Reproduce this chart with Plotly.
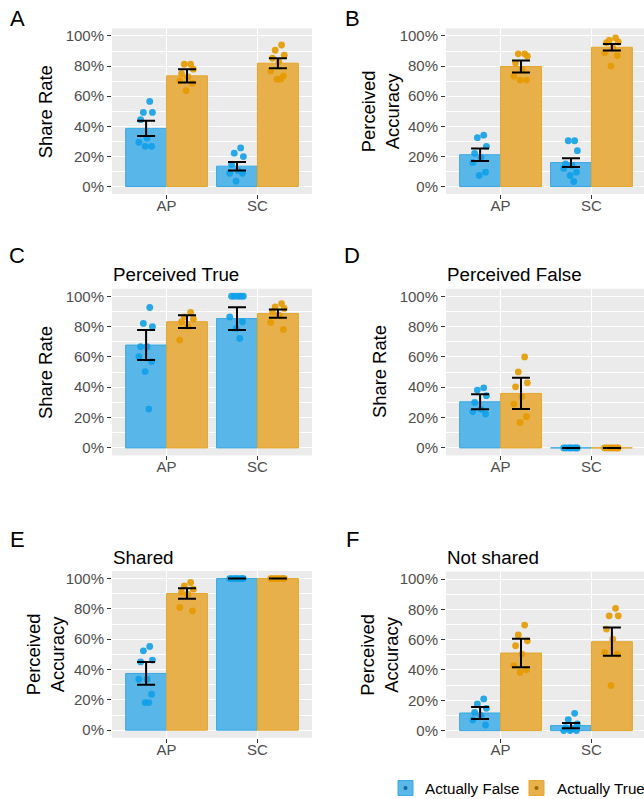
import plotly.graph_objects as go

# ---------------- data ----------------
categories = ["AP", "SC"]
groups = ["Actually False", "Actually True"]
y_ticks = [0, 0.2, 0.4, 0.6, 0.8, 1.0]

# Panel A: Share Rate
A_mean_false = [0.386, 0.135]
A_err_false = [0.050, 0.028]
A_mean_true = [0.735, 0.819]
A_err_true = [0.044, 0.033]
A_pts_false_AP = [0.565, 0.492, 0.492, 0.444, 0.322, 0.294, 0.267, 0.267]
A_pts_false_SC = [0.256, 0.221, 0.199, 0.146, 0.106, 0.088, 0.088, 0.035]
A_pts_true_AP = [0.812, 0.812, 0.779, 0.750, 0.728, 0.702, 0.684, 0.636]
A_pts_true_SC = [0.940, 0.905, 0.872, 0.852, 0.828, 0.768, 0.735, 0.713, 0.713]

# Panel B: Perceived Accuracy
B_mean_false = [0.211, 0.159]
B_err_false = [0.042, 0.029]
B_mean_true = [0.797, 0.925]
B_err_true = [0.040, 0.022]
B_pts_false_AP = [0.341, 0.324, 0.267, 0.220, 0.194, 0.160, 0.095, 0.073]
B_pts_false_SC = [0.304, 0.304, 0.238, 0.150, 0.140, 0.120, 0.095, 0.073, 0.033]
B_pts_true_AP = [0.881, 0.881, 0.866, 0.820, 0.780, 0.733, 0.707, 0.707]
B_pts_true_SC = [0.987, 0.971, 0.960, 0.955, 0.921, 0.888, 0.870, 0.800]

# Panel C: Perceived True - Share Rate
C_mean_false = [0.678, 0.853]
C_err_false = [0.099, 0.075]
C_mean_true = [0.832, 0.886]
C_err_true = [0.042, 0.027]
C_pts_false_AP = [0.926, 0.821, 0.800, 0.667, 0.667, 0.602, 0.569, 0.503, 0.256]
C_pts_false_SC = [1.0, 1.0, 1.0, 1.0, 1.0, 0.864, 0.832, 0.788, 0.722]
C_pts_true_AP = [0.893, 0.864, 0.850, 0.832, 0.800, 0.711]
C_pts_true_SC = [0.952, 0.930, 0.920, 0.897, 0.875, 0.827, 0.781]

# Panel D: Perceived False - Share Rate
D_mean_false = [0.304, 0.0]
D_err_false = [0.050, 0.0]
D_mean_true = [0.359, 0.0]
D_err_true = [0.103, 0.0]
D_pts_false_AP = [0.396, 0.381, 0.344, 0.300, 0.254, 0.240, 0.223]
D_pts_false_SC = [0.0, 0.0, 0.0, 0.0, 0.0, 0.0, 0.0, 0.0]
D_pts_true_AP = [0.600, 0.501, 0.429, 0.403, 0.337, 0.289, 0.206, 0.168]
D_pts_true_SC = [0.0, 0.0, 0.0, 0.0, 0.0, 0.0, 0.0, 0.0]

# Panel E: Shared - Perceived Accuracy
E_mean_false = [0.374, 1.0]
E_err_false = [0.075, 0.0]
E_mean_true = [0.901, 1.0]
E_err_true = [0.035, 0.0]
E_pts_false_AP = [0.552, 0.523, 0.462, 0.450, 0.336, 0.336, 0.237, 0.182, 0.182]
E_pts_false_SC = [1.0, 1.0, 1.0, 1.0, 1.0, 1.0, 1.0, 1.0]
E_pts_true_AP = [0.974, 0.952, 0.930, 0.910, 0.897, 0.809, 0.787]
E_pts_true_SC = [1.0, 1.0, 1.0, 1.0, 1.0, 1.0, 1.0, 1.0]

# Panel F: Not shared - Perceived Accuracy
F_mean_false = [0.116, 0.033]
F_err_false = [0.040, 0.017]
F_mean_true = [0.512, 0.587]
F_err_true = [0.094, 0.093]
F_pts_false_AP = [0.209, 0.176, 0.147, 0.120, 0.099, 0.070, 0.037]
F_pts_false_SC = [0.114, 0.073, 0.044, 0.020, 0.011, 0.0, 0.0, 0.0]
F_pts_true_AP = [0.697, 0.631, 0.593, 0.560, 0.505, 0.429, 0.402, 0.385]
F_pts_true_SC = [0.807, 0.758, 0.758, 0.670, 0.604, 0.516, 0.505, 0.297]

panel_letters = ["A", "B", "C", "D", "E", "F"]
panel_titles = ["", "", "Perceived True", "Perceived False", "Shared", "Not shared"]
panel_ytitles = ["Share Rate", "Perceived<br>Accuracy", "Share Rate", "Share Rate",
                 "Perceived<br>Accuracy", "Perceived<br>Accuracy"]

panel_data = [
    (A_mean_false, A_err_false, A_mean_true, A_err_true,
     [A_pts_false_AP, A_pts_false_SC], [A_pts_true_AP, A_pts_true_SC]),
    (B_mean_false, B_err_false, B_mean_true, B_err_true,
     [B_pts_false_AP, B_pts_false_SC], [B_pts_true_AP, B_pts_true_SC]),
    (C_mean_false, C_err_false, C_mean_true, C_err_true,
     [C_pts_false_AP, C_pts_false_SC], [C_pts_true_AP, C_pts_true_SC]),
    (D_mean_false, D_err_false, D_mean_true, D_err_true,
     [D_pts_false_AP, D_pts_false_SC], [D_pts_true_AP, D_pts_true_SC]),
    (E_mean_false, E_err_false, E_mean_true, E_err_true,
     [E_pts_false_AP, E_pts_false_SC], [E_pts_true_AP, E_pts_true_SC]),
    (F_mean_false, F_err_false, F_mean_true, F_err_true,
     [F_pts_false_AP, F_pts_false_SC], [F_pts_true_AP, F_pts_true_SC]),
]

# ---------------- style / layout ----------------
W, H = 644, 799
FONT = "Liberation Sans, Arial, Helvetica, sans-serif"
BAR_FILL = ["rgba(80,179,232,0.95)", "rgba(230,170,60,0.92)"]
BAR_LINE = ["#3AA9E4", "#E6A629"]
PT_COLOR = ["rgba(16,160,232,0.9)", "rgba(230,154,0,0.9)"]
KEY_DOT = ["#14689C", "#9A6A00"]
JITTER = [0.04, -0.03, 0.07, -0.06, 0.01, -0.08, 0.06, -0.01, 0.03, -0.05]
GROUP_OFFSET = [-0.225, 0.225]
BAR_WIDTH = 0.45
PX_PER_UNIT = 200 / 2.2

# panel boxes in pixels: (x0, x1, y0_top, y1_bottom)
boxes = [
    (112, 312, 27.5, 193.5),
    (446, 644, 27.5, 193.5),
    (112, 312, 288.4, 455.6),
    (446, 644, 288.4, 455.6),
    (112, 312, 571.4, 738.6),
    (446, 644, 572.0, 739.0),
]
letter_pos = [(17, 18), (352, 18), (17, 255), (352, 255), (17, 540), (352, 540)]
ytitle_x = [45, 380, 45, 379, 45, 380]


def px(xp):
    return xp / W


def py(yp):
    return 1 - yp / H


fig = go.Figure()
annotations = []
shapes = []
layout_axes = {}

for i, (mf, ef, mt, et, pts_f, pts_t) in enumerate(panel_data):
    sfx = "" if i == 0 else str(i + 1)
    xr, yr = "x" + sfx, "y" + sfx
    means = [mf, mt]
    errs = [ef, et]
    pts = [pts_f, pts_t]
    cat_pos = [k + 1 for k in range(len(categories))]

    # bars
    for g in range(2):
        fig.add_trace(go.Bar(
            x=[c + GROUP_OFFSET[g] for c in cat_pos], y=means[g], width=BAR_WIDTH,
            marker=dict(color=BAR_FILL[g], line=dict(color=BAR_LINE[g], width=1)),
            xaxis=xr, yaxis=yr, showlegend=False, hoverinfo="skip"))
    # jittered points
    for g in range(2):
        xs, ys = [], []
        for c, vals in zip(cat_pos, pts[g]):
            for j, v in enumerate(vals):
                xs.append(c + GROUP_OFFSET[g] + JITTER[j % len(JITTER)])
                ys.append(v)
        fig.add_trace(go.Scatter(
            x=xs, y=ys, mode="markers",
            marker=dict(color=PT_COLOR[g], size=6.8, line=dict(width=0)),
            xaxis=xr, yaxis=yr, showlegend=False, hoverinfo="skip"))
    # error bars
    for g in range(2):
        fig.add_trace(go.Scatter(
            x=[c + GROUP_OFFSET[g] for c in cat_pos], y=means[g], mode="markers",
            marker=dict(size=1, color="rgba(0,0,0,0)"),
            error_y=dict(type="data", array=errs[g], color="black", thickness=2, width=9),
            xaxis=xr, yaxis=yr, showlegend=False, hoverinfo="skip"))

    x0, x1, yt, yb = boxes[i]
    width_units = (x1 - x0) / PX_PER_UNIT
    layout_axes["xaxis" + sfx] = dict(
        domain=[px(x0), px(x1)], range=[0.4, 0.4 + width_units], anchor=yr,
        tickvals=cat_pos, ticktext=categories, ticks="outside", ticklen=4,
        tickwidth=1, tickcolor="#333333", showgrid=True, gridcolor="white",
        gridwidth=1.2, zeroline=False, showline=False, ticklabelstandoff=-6,
        tickfont=dict(family=FONT, size=15, color="#4D4D4D"), fixedrange=True)
    layout_axes["yaxis" + sfx] = dict(
        domain=[py(yb), py(yt)], range=[-0.05, 1.05], anchor=xr,
        tickvals=y_ticks, tickformat=".0%", ticks="outside", ticklen=4,
        tickwidth=1, tickcolor="#333333", showgrid=True, gridcolor="white",
        gridwidth=1.2, zeroline=False, showline=False, ticklabelstandoff=0,
        minor=dict(tickvals=[0.1, 0.3, 0.5, 0.7, 0.9], showgrid=True,
                   gridcolor="white", gridwidth=0.6, ticks=""),
        tickfont=dict(family=FONT, size=15, color="#4D4D4D"), fixedrange=True)

    # panel letter
    lx, ly = letter_pos[i]
    annotations.append(dict(text=panel_letters[i], x=px(lx), y=py(ly), xref="paper",
                            yref="paper", xanchor="center", yanchor="middle", showarrow=False,
                            font=dict(family=FONT, size=22, color="black")))
    # title
    if panel_titles[i]:
        ty = 274 if i < 4 else 558
        annotations.append(dict(text=panel_titles[i], x=px(x0 - 1), y=py(ty), xref="paper",
                                yref="paper", xanchor="left", yanchor="middle", showarrow=False,
                                font=dict(family=FONT, size=18.8, color="black")))
    # y axis title
    annotations.append(dict(text=panel_ytitles[i], x=px(ytitle_x[i]), y=py((yt + yb) / 2),
                            xref="paper", yref="paper", xanchor="center", yanchor="middle",
                            textangle=-90, showarrow=False,
                            font=dict(family=FONT, size=18.4, color="black")))

# ---------------- legend (drawn) ----------------
legend_key_x = [398, 529]
legend_text_x = [423, 555]
legend_y = 789
for g in range(2):
    kx = legend_key_x[g]
    shapes.append(dict(type="rect", xref="paper", yref="paper",
                       x0=px(kx), x1=px(kx + 15), y0=py(legend_y + 7.5), y1=py(legend_y - 7.5),
                       fillcolor=BAR_FILL[g], line=dict(color=BAR_LINE[g], width=1)))
    shapes.append(dict(type="circle", xref="paper", yref="paper", xsizemode="pixel",
                       ysizemode="pixel", xanchor=px(kx + 7.5), yanchor=py(legend_y),
                       x0=-2, x1=2, y0=-2, y1=2, fillcolor=KEY_DOT[g], line=dict(width=0)))
    annotations.append(dict(text=groups[g], x=px(legend_text_x[g]), y=py(legend_y),
                            xref="paper", yref="paper", xanchor="left", yanchor="middle",
                            showarrow=False, font=dict(family=FONT, size=15.2, color="black")))

fig.update_layout(
    width=W, height=H, margin=dict(l=0, r=0, t=0, b=0),
    paper_bgcolor="white", plot_bgcolor="#EBEBEB",
    barmode="overlay", showlegend=False,
    annotations=annotations, shapes=shapes,
    font=dict(family=FONT),
    **layout_axes)

fig.write_html("out.html")
